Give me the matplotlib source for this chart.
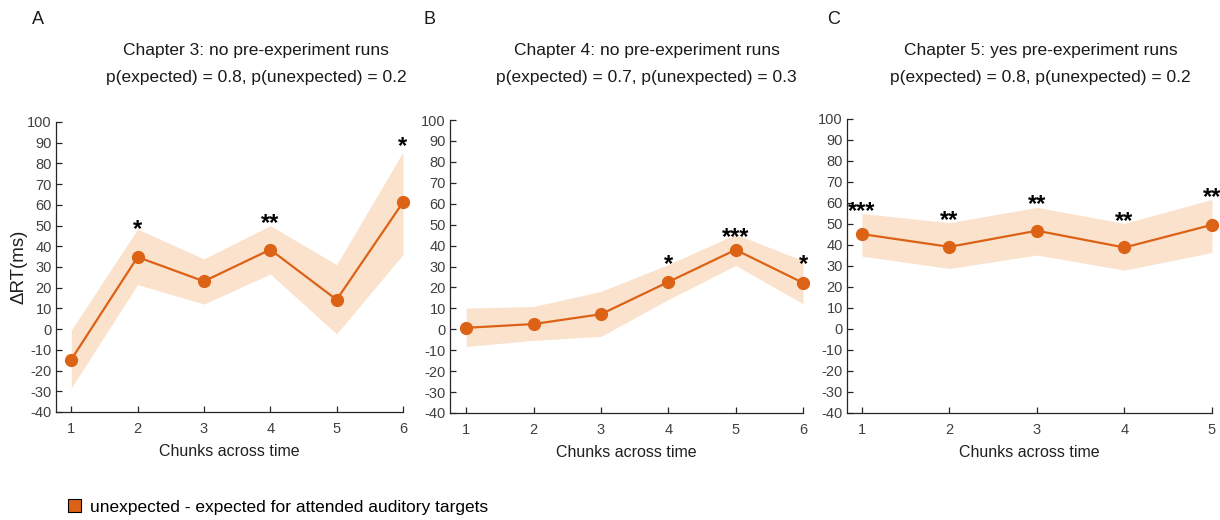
import numpy as np
import matplotlib
matplotlib.use("Agg")
import matplotlib.pyplot as plt
from matplotlib.patches import Patch

# --- data ---
chunks_a = [1, 2, 3, 4, 5, 6]
mean_a = [-14.7, 34.8, 23.1, 38.4, 14.2, 61.2]
upper_a = [-0.5, 48.3, 33.9, 50.0, 31.1, 85.5]
lower_a = [-28.4, 21.5, 12.1, 26.6, -2.3, 36.0]
stars_a = ["", "*", "", "**", "", "*"]
stary_a = [0, 48, 0, 51, 0, 88]

chunks_b = [1, 2, 3, 4, 5, 6]
mean_b = [0.7, 2.5, 7.2, 22.6, 38.0, 22.2]
upper_b = [10.1, 10.9, 18.1, 30.9, 45.4, 32.8]
lower_b = [-8.2, -5.3, -3.4, 14.2, 30.5, 12.2]
stars_b = ["", "", "", "*", "***", "*"]
stary_b = [0, 0, 0, 31, 44, 31]

chunks_c = [1, 2, 3, 4, 5]
mean_c = [45.2, 39.1, 46.8, 38.8, 49.6]
upper_c = [55.0, 50.6, 57.9, 50.3, 61.7]
lower_c = [34.7, 28.8, 35.2, 28.0, 36.4]
stars_c = ["***", "**", "**", "**", "**"]
stary_c = [56, 51.5, 59.5, 51, 62.5]

titles = [
    "Chapter 3: no pre-experiment runs\np(expected) = 0.8, p(unexpected) = 0.2",
    "Chapter 4: no pre-experiment runs\np(expected) = 0.7, p(unexpected) = 0.3",
    "Chapter 5: yes pre-experiment runs\np(expected) = 0.8, p(unexpected) = 0.2",
]
letters = ["A", "B", "C"]
legend_label = "unexpected - expected for attended auditory targets"

LINE = "#DC6215"
BAND = "#FBE2CD"

plt.rcParams["font.family"] = ["Liberation Sans", "DejaVu Sans"]
plt.rcParams["axes.unicode_minus"] = False

fig = plt.figure(figsize=(12.2, 5.2), dpi=100)

rects = [
    [0.0459, 0.2077, 0.2844, 0.5577],
    [0.3689, 0.2058, 0.2893, 0.5634],
    [0.6943, 0.2058, 0.2991, 0.5654],
]
xlims = [(0.77, 6), (0.76, 6), (0.83, 5)]
title_x = [0.210, 0.530, 0.853]
letter_x = [0.031, 0.352, 0.683]

panels = [
    (chunks_a, mean_a, upper_a, lower_a, stars_a, stary_a),
    (chunks_b, mean_b, upper_b, lower_b, stars_b, stary_b),
    (chunks_c, mean_c, upper_c, lower_c, stars_c, stary_c),
]

for i, (x, m, up, lo, st, sy) in enumerate(panels):
    ax = fig.add_axes(rects[i])
    ax.fill_between(x, lo, up, color=BAND, linewidth=0)
    ax.plot(x, m, "-o", color=LINE, linewidth=1.6, markersize=8.5, clip_on=False, zorder=3)
    for xi, s, yi in zip(x, st, sy):
        if s:
            ax.text(xi, yi, s, ha="center", va="center", fontsize=17,
                    fontweight="bold", color="black")
    ax.set_xlim(*xlims[i])
    ax.set_ylim(-40, 100)
    ax.set_yticks(np.arange(-40, 101, 10))
    ax.set_xticks(x)
    for side in ["top", "right"]:
        ax.spines[side].set_visible(False)
    for side in ["left", "bottom"]:
        ax.spines[side].set_color("#262626")
        ax.spines[side].set_linewidth(0.9)
    ax.tick_params(direction="in", length=4, width=0.9, color="#262626",
                   labelsize=10.5, labelcolor="#404040")
    ax.tick_params(axis="y", pad=3)
    ax.tick_params(axis="x", pad=7)
    ax.set_xlabel("Chunks across time", fontsize=11.5, color="#202020", labelpad=6)
    if i == 0:
        ax.set_ylabel("ΔRT(ms)", fontsize=13.5, color="#202020", labelpad=0)
    fig.text(title_x[i], 0.877, titles[i], ha="center", va="center", fontsize=12.5,
             color="#1a1a1a", linespacing=2.0)
    fig.text(letter_x[i], 0.962, letters[i], ha="center", va="center", fontsize=13,
             color="#1a1a1a")

handle = Patch(facecolor=LINE, edgecolor="black", linewidth=0.8)
fig.legend([handle], [legend_label], loc="center left", bbox_to_anchor=(0.043, 0.025),
           frameon=False, prop={"size": 12.5},
           handlelength=0.75, handleheight=0.75, handletextpad=0.5)

fig.savefig("out.png", dpi=100)
